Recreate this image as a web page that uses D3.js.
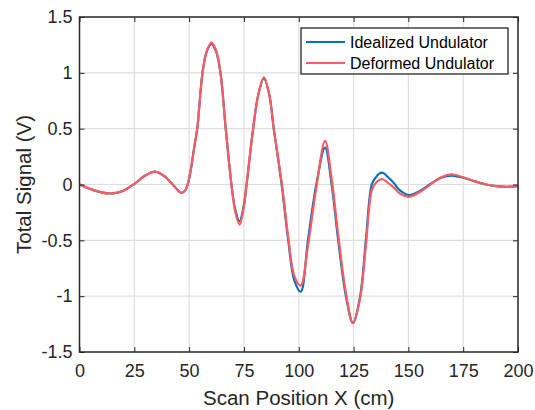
<!DOCTYPE html>
<html lang="en">
	<head>
		<meta charset="utf-8">
		<title>Total signal vs scan position</title>
		<script type="text/javascript" src="https://cdn.jsdelivr.net/npm/d3@7"></script>
		<style type="text/css">
			body { margin: 0; background: #fff; }
			svg { display: block; font-family: "Liberation Sans", Arial, sans-serif; }
		</style>
	</head>
	<body>
		<script type="text/javascript">
			var w = 535;
			var h = 410;

			// data
			var scanX = [0, 5, 10, 15, 20, 25, 30, 34.5, 39, 42.5, 46.5, 48.3, 49.6, 51, 52.3, 53.7, 56.1, 58, 60.2, 62.3, 64.3, 66.7,
						69.3, 71, 73, 74.8, 76.2, 79.2, 81.5, 84.1, 86.6, 88.6, 92.2, 95.2, 98, 100.9, 104.2, 108, 112,
						115, 118, 121.5, 124.7, 128, 130.6, 133.3, 135, 136.6, 138.3, 141, 143.5, 146, 150.3, 155, 159.7,
						165, 169.6, 175, 180, 185.5, 190, 195, 200];
			var idealized = [0, -0.04, -0.07, -0.08, -0.055, 0.005, 0.08, 0.115, 0.07, 0.0, -0.075, -0.05, 0.02, 0.16, 0.33, 0.5, 1.0, 1.19, 1.26, 1.19, 1.0, 0.5,
						0.0, -0.22, -0.33, -0.2, 0.0, 0.5, 0.8, 0.95, 0.8, 0.5, 0.0, -0.5, -0.86, -0.96, -0.5, 0.0, 0.33,
						0.0, -0.5, -1.0, -1.24, -1.0, -0.5, 0.0, 0.06, 0.095, 0.105, 0.06, 0.01, -0.05, -0.095, -0.06, 0.0,
						0.06, 0.08, 0.06, 0.03, 0.0, -0.015, -0.02, -0.015];
			var deformed = [0, -0.04, -0.07, -0.08, -0.055, 0.005, 0.08, 0.115, 0.07, 0.0, -0.075, -0.05, 0.02, 0.16, 0.33, 0.5, 1.0, 1.19, 1.27, 1.2, 1.0, 0.5,
						0.0, -0.24, -0.36, -0.22, 0.0, 0.5, 0.8, 0.96, 0.8, 0.5, 0.02, -0.47, -0.82, -0.905, -0.55, -0.03, 0.39,
						0.05, -0.45, -0.97, -1.24, -1.02, -0.55, -0.05, 0.01, 0.04, 0.047, 0.01, -0.03, -0.08, -0.11, -0.07, -0.005,
						0.065, 0.09, 0.065, 0.03, 0.0, -0.015, -0.02, -0.015];
			var seriesNames = ["Idealized Undulator", "Deformed Undulator"];
			var seriesColors = ["#0072bd", "#ff5a60"];
			var xTicks = [0, 25, 50, 75, 100, 125, 150, 175, 200];
			var yTicks = [-1.5, -1, -0.5, 0, 0.5, 1, 1.5];

			var pLeft = 79.5, pRight = 518, pTop = 17, pBottom = 352;

			var xScale = d3.scaleLinear().domain([0, 200]).range([pLeft, pRight]);
			var yScale = d3.scaleLinear().domain([-1.5, 1.5]).range([pBottom, pTop]);

			var svg = d3.select("body")
						.append("svg")
						.attr("width", w)
						.attr("height", h);

			//grid lines
			svg.append("g")
				.selectAll("line")
				.data(xTicks.slice(1, -1))
				.enter()
				.append("line")
				.attr("x1", function(d) { return xScale(d); })
				.attr("x2", function(d) { return xScale(d); })
				.attr("y1", pTop)
				.attr("y2", pBottom)
				.attr("stroke", "#dedede")
				.attr("stroke-width", 1.2);
			svg.append("g")
				.selectAll("line")
				.data(yTicks.slice(1, -1))
				.enter()
				.append("line")
				.attr("y1", function(d) { return yScale(d); })
				.attr("y2", function(d) { return yScale(d); })
				.attr("x1", pLeft)
				.attr("x2", pRight)
				.attr("stroke", "#dedede")
				.attr("stroke-width", 1.2);

			//lines
			var data = [idealized, deformed];
			var line = d3.line()
						.x(function(d, i) { return xScale(scanX[i]); })
						.y(function(d) { return yScale(d); })
						.curve(d3.curveCatmullRom.alpha(0.5));
			svg.append("g")
				.selectAll("path")
				.data(data)
				.enter()
				.append("path")
				.attr("d", line)
				.attr("fill", "none")
				.attr("stroke", function(d, i) { return seriesColors[i]; })
				.attr("stroke-width", 2.2);

			//axes (box with inward ticks)
			var tick = 5;
			var axisColor = "#262626";
			svg.append("g")
				.attr("transform", "translate(0," + pBottom + ")")
				.call(d3.axisBottom(xScale).tickValues(xTicks).tickSize(-tick).tickPadding(12).tickFormat(d3.format("d")))
				.call(function(g) {
					g.select(".domain").remove();
					g.selectAll("line").attr("stroke", axisColor);
					g.selectAll("text").attr("font-size", "18px").attr("fill", axisColor)
						.attr("font-family", "Liberation Sans, Arial, sans-serif");
				});
			svg.append("g")
				.attr("transform", "translate(0," + pTop + ")")
				.call(d3.axisTop(xScale).tickValues(xTicks).tickSize(-tick).tickFormat(""))
				.call(function(g) {
					g.select(".domain").remove();
					g.selectAll("line").attr("stroke", axisColor);
				});
			svg.append("g")
				.attr("transform", "translate(" + pLeft + ",0)")
				.call(d3.axisLeft(yScale).tickValues(yTicks).tickSize(-tick).tickPadding(7).tickFormat(function(d) { return d; }))
				.call(function(g) {
					g.select(".domain").remove();
					g.selectAll("line").attr("stroke", axisColor);
					g.selectAll("text").attr("font-size", "18px").attr("fill", axisColor)
						.attr("font-family", "Liberation Sans, Arial, sans-serif");
				});
			svg.append("g")
				.attr("transform", "translate(" + pRight + ",0)")
				.call(d3.axisRight(yScale).tickValues(yTicks).tickSize(-tick).tickFormat(""))
				.call(function(g) {
					g.select(".domain").remove();
					g.selectAll("line").attr("stroke", axisColor);
				});
			svg.append("rect")
				.attr("x", pLeft)
				.attr("y", pTop)
				.attr("width", pRight - pLeft)
				.attr("height", pBottom - pTop)
				.attr("fill", "none")
				.attr("stroke", axisColor)
				.attr("stroke-width", 1.5);

			//axis labels
			svg.append("text")
				.text("Scan Position X (cm)")
				.attr("x", (pLeft + pRight) / 2)
				.attr("y", 405)
				.attr("text-anchor", "middle")
				.attr("font-size", "20.5px")
				.attr("fill", axisColor);
			svg.append("text")
				.text("Total Signal (V)")
				.attr("transform", "translate(31," + (pTop + pBottom) / 2 + ") rotate(-90)")
				.attr("text-anchor", "middle")
				.attr("font-size", "20.5px")
				.attr("fill", axisColor);

			//legend
			var legend = svg.append("g");
			legend.append("rect")
				.attr("x", 301)
				.attr("y", 28)
				.attr("width", 207)
				.attr("height", 46)
				.attr("fill", "#fff")
				.attr("stroke", axisColor)
				.attr("stroke-width", 1.3);
			var items = legend.selectAll("g.item")
				.data(seriesNames)
				.enter()
				.append("g")
				.attr("transform", function(d, i) { return "translate(0," + (42 + i * 21) + ")"; });
			items.append("line")
				.attr("x1", 306)
				.attr("x2", 345)
				.attr("stroke", function(d, i) { return seriesColors[i]; })
				.attr("stroke-width", 2.2);
			items.append("text")
				.text(function(d) { return d; })
				.attr("x", 350)
				.attr("dy", "0.36em")
				.attr("font-size", "16px")
				.attr("fill", "#000");
		</script>
	</body>
</html>
